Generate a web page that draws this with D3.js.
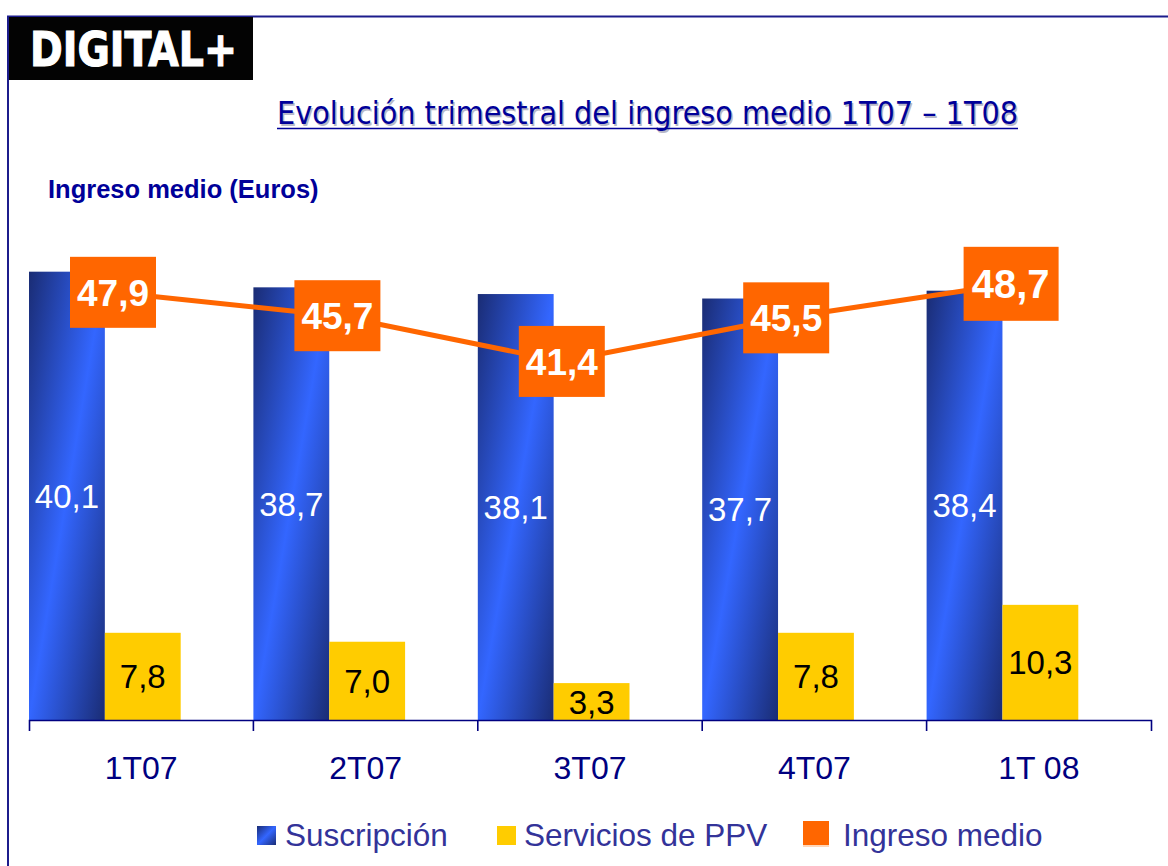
<!DOCTYPE html>
<html>
<head>
<meta charset="utf-8">
<script src="https://cdn.jsdelivr.net/npm/d3@7"></script>
<style>
  body { margin: 0; background: #fff; }
  svg { display: block; font-family: "Liberation Sans", Arial, sans-serif; }
</style>
</head>
<body>
<svg id="chart" width="1168" height="866"></svg>
<script>
// quarterly average revenue, euros
var categories = ["1T07", "2T07", "3T07", "4T07", "1T 08"];
var suscripcion = [40.1, 38.7, 38.1, 37.7, 38.4];
var ppv = [7.8, 7.0, 3.3, 7.8, 10.3];
var ingresoMedio = [47.9, 45.7, 41.4, 45.5, 48.7];
var legendLabels = ["Suscripción", "Servicios de PPV", "Ingreso medio"];

var fmt = function(v) { return v.toFixed(1).replace(".", ","); };

var svg = d3.select("#chart");

var defs = svg.append("defs");
var grad = defs.append("linearGradient")
    .attr("id", "blueGrad")
    .attr("x1", 0).attr("y1", 0).attr("x2", 1).attr("y2", 1);
grad.append("stop").attr("offset", "0").attr("stop-color", "#1a2c74");
grad.append("stop").attr("offset", "0.5").attr("stop-color", "#3366ff");
grad.append("stop").attr("offset", "1").attr("stop-color", "#1a2c74");

// frame + logo
svg.append("path")
    .attr("d", "M8,866 L8,16.5 L1168,16.5")
    .attr("fill", "none").attr("stroke", "#1c1c8c").attr("stroke-width", 2);
svg.append("rect").attr("x", 9).attr("y", 17).attr("width", 244).attr("height", 63)
    .attr("fill", "#030303");
svg.append("text").attr("x", 30).attr("y", 66)
    .attr("font-family", "DejaVu Sans").attr("font-weight", "bold")
    .attr("font-size", 48).attr("fill", "#fff")
    .attr("stroke", "#fff").attr("stroke-width", 1.2)
    .attr("textLength", 207).attr("lengthAdjust", "spacingAndGlyphs")
    .text("DIGITAL+");

// title, with its soft shadow
var title = "Evolución trimestral del ingreso medio 1T07 – 1T08";
[["#b8b8c8", 1.5], ["#000099", 0]].forEach(function(t) {
    svg.append("text").attr("x", 277 + t[1]).attr("y", 124 + t[1])
        .attr("font-family", "'DejaVu Sans Condensed', 'DejaVu Sans', sans-serif")
        .attr("font-size", 32).attr("fill", t[0])
        .attr("textLength", 741).attr("lengthAdjust", "spacingAndGlyphs")
        .text(title);
});
svg.append("line").attr("x1", 277).attr("x2", 1018).attr("y1", 128.5).attr("y2", 128.5)
    .attr("stroke", "#000099").attr("stroke-width", 1.6);

svg.append("text").attr("x", 48).attr("y", 198)
    .attr("font-weight", "bold").attr("font-size", 25.5).attr("fill", "#000099")
    .text("Ingreso medio (Euros)");

// scales
var x = d3.scaleBand().domain(categories).range([29, 1151]);
var y = d3.scaleLinear().domain([0, 50]).range([720, 161]);
var yLine = d3.scaleLinear().domain([0, 60]).range([801.5, 163.7]); // secondary axis, hidden
var barW = x.bandwidth() * 0.338;
var lineOff = 84;

var rows = categories.map(function(c, i) {
    return { cat: c, s: suscripcion[i], p: ppv[i], m: ingresoMedio[i], i: i };
});

// blue bars
svg.selectAll("rect.sus").data(rows).enter().append("rect")
    .attr("class", "sus")
    .attr("x", function(d) { return x(d.cat); })
    .attr("y", function(d) { return y(d.s); })
    .attr("width", barW)
    .attr("height", function(d) { return y(0) - y(d.s); })
    .attr("fill", "url(#blueGrad)");

// yellow bars
svg.selectAll("rect.ppv").data(rows).enter().append("rect")
    .attr("class", "ppv")
    .attr("x", function(d) { return x(d.cat) + barW; })
    .attr("y", function(d) { return y(d.p); })
    .attr("width", barW)
    .attr("height", function(d) { return y(0) - y(d.p); })
    .attr("fill", "#ffcc00");

svg.selectAll("text.sus").data(rows).enter().append("text")
    .attr("x", function(d) { return x(d.cat) + barW / 2; })
    .attr("y", function(d) { return (y(d.s) + y(0)) / 2 + 12; })
    .attr("text-anchor", "middle").attr("font-size", 33).attr("fill", "#fff")
    .text(function(d) { return fmt(d.s); });

svg.selectAll("text.ppv").data(rows).enter().append("text")
    .attr("x", function(d) { return x(d.cat) + barW * 1.5; })
    .attr("y", function(d) { return (y(d.p) + y(0)) / 2 + 12; })
    .attr("text-anchor", "middle").attr("font-size", 33).attr("fill", "#000")
    .text(function(d) { return fmt(d.p); });

// axis
var axis = d3.axisBottom(x).tickSize(0).tickSizeOuter(11).tickPadding(36);
var ag = svg.append("g").attr("transform", "translate(0,720)").call(axis);
ag.select(".domain").attr("stroke", "#000080").attr("stroke-width", 1.6);
ag.selectAll(".tick text")
    .attr("font-family", "'Liberation Sans', Arial, sans-serif")
    .attr("font-size", 32).attr("fill", "#000080");
ag.selectAll("line.bound").data(categories.slice(1)).enter().append("line")
    .attr("class", "bound")
    .attr("x1", function(c) { return x(c); }).attr("x2", function(c) { return x(c); })
    .attr("y1", 0).attr("y2", 11)
    .attr("stroke", "#000080").attr("stroke-width", 1.6);

// average revenue line + boxed labels
var line = d3.line()
    .x(function(d) { return x(d.cat) + lineOff; })
    .y(function(d) { return yLine(d.m); });
svg.append("path").datum(rows).attr("d", line)
    .attr("fill", "none").attr("stroke", "#ff6600").attr("stroke-width", 5);

var lab = svg.selectAll("g.lab").data(rows).enter().append("g")
    .attr("class", "lab")
    .attr("transform", function(d) {
        return "translate(" + (x(d.cat) + lineOff) + "," + yLine(d.m) + ")";
    });
lab.append("rect")
    .attr("x", function(d) { return d.i === 4 ? -47 : -43; })
    .attr("y", function(d) { return d.i === 4 ? -37 : -35.5; })
    .attr("width", function(d) { return d.i === 4 ? 95 : 86; })
    .attr("height", function(d) { return d.i === 4 ? 74 : 71; })
    .attr("fill", "#ff6600");
lab.append("text")
    .attr("text-anchor", "middle")
    .attr("y", function(d) { return d.i === 4 ? 14.5 : 13.5; })
    .attr("font-weight", "bold")
    .attr("font-size", function(d) { return d.i === 4 ? 40 : 37; })
    .attr("fill", "#fff")
    .text(function(d) { return fmt(d.m); });

// legend
var legend = [
    { label: legendLabels[0], sx: 257, sy: 826, sw: 19, sh: 19, fill: "url(#blueGrad)", tx: 285 },
    { label: legendLabels[1], sx: 497, sy: 826, sw: 19, sh: 19, fill: "#ffcc00", tx: 524 },
    { label: legendLabels[2], sx: 803, sy: 821, sw: 26, sh: 24, fill: "#ff6600", tx: 843 }
];
var lg = svg.selectAll("g.leg").data(legend).enter().append("g").attr("class", "leg");
lg.append("rect")
    .attr("x", function(d) { return d.sx; }).attr("y", function(d) { return d.sy; })
    .attr("width", function(d) { return d.sw; }).attr("height", function(d) { return d.sh; })
    .attr("fill", function(d) { return d.fill; });
lg.append("text")
    .attr("x", function(d) { return d.tx; }).attr("y", 846)
    .attr("font-size", 31.5).attr("fill", "#333399")
    .text(function(d) { return d.label; });
svg.append("line").attr("x1", 803).attr("x2", 829).attr("y1", 846).attr("y2", 846)
    .attr("stroke", "#ffc9a0").attr("stroke-width", 1.5);
</script>
</body>
</html>
